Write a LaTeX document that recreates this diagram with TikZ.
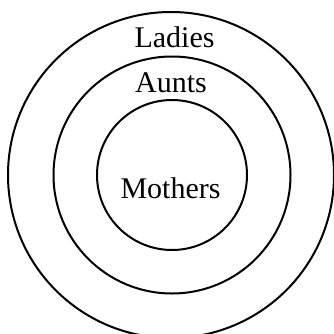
\documentclass[tikz,border=0pt]{standalone}
\usepackage{fontspec}
\setmainfont{Liberation Serif}
\begin{document}
\begin{tikzpicture}[x=1pt, y=1pt, every node/.style={font=\fontsize{30}{36}\selectfont},
  ring/.style={draw, circle, line width=2pt, inner sep=0pt}]
\useasboundingbox (0,0) rectangle (334,333);
\node[ring, minimum size=326pt] (ladies) at (171,158) {};
\node[ring, minimum size=237pt] (aunts) at (172,158) {};
\node[ring, minimum size=150pt] (mothers) at (172,158) {};
\node[anchor=base] (ladieslbl) at (174.5,286) {Ladies};
\node[anchor=base] (auntslbl) at (171,241) {Aunts};
\node[anchor=base] (motherslbl) at (170.5,135) {Mothers};
\end{tikzpicture}
\end{document}
